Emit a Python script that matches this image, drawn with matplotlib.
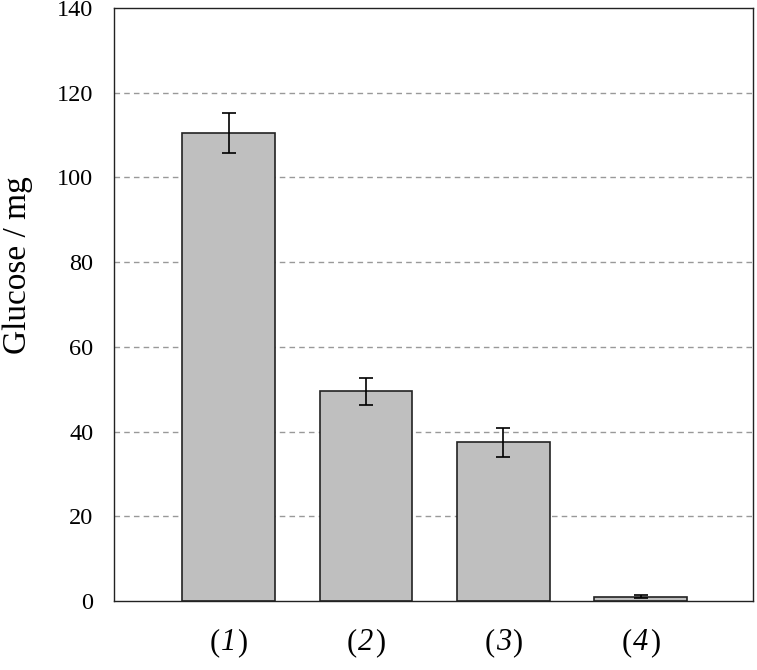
import matplotlib
matplotlib.use('Agg')
import matplotlib.pyplot as plt
from matplotlib.offsetbox import TextArea, HPacker, AnnotationBbox
import numpy as np

plt.rcParams['font.family'] = ['Liberation Serif']

# data
samples = ['1', '2', '3', '4']
glucose = [110.5, 49.5, 37.5, 1.0]
glucose_err = [4.7, 3.2, 3.4, 0.3]

fig = plt.figure(figsize=(7.57, 6.70), dpi=100)
ax = fig.add_axes([0.1506, 0.103, 0.8441, 0.885])

x = np.arange(len(samples))
ax.bar(x, glucose, width=0.676, color='#bfbfbf', edgecolor='#222222', linewidth=1.2, zorder=2)
ax.errorbar(x, glucose, yerr=glucose_err, fmt='none', ecolor='black',
            elinewidth=1.2, capsize=5, capthick=1.2, zorder=3)

ax.set_ylim(0, 140)
ax.set_yticks(np.arange(0, 141, 20))
ax.set_xlim(-0.833, 3.815)
ax.set_xticks(x)
ax.set_xticklabels([])
ax.tick_params(axis='y', length=0, pad=15, labelsize=17.5)
ax.tick_params(axis='x', length=0)

# x labels: "(" upright, number italic, ")" upright
for xi, s in zip(x, samples):
    props = dict(fontsize=22, fontfamily='Liberation Serif')
    parts = [TextArea('(', textprops=props),
             TextArea(s, textprops=dict(props, fontstyle='italic')),
             TextArea(')', textprops=props)]
    box = HPacker(children=parts, align='baseline', pad=0, sep=1)
    ab = AnnotationBbox(box, (xi, 0), xybox=(0, -30), xycoords=('data', 'axes fraction'),
                        boxcoords='offset points', frameon=False, box_alignment=(0.5, 0.5))
    ax.add_artist(ab)

for yv in range(20, 140, 20):
    ax.axhline(yv, color='#999999', linestyle=(0, (4, 3)), linewidth=1, zorder=1)

for s in ax.spines.values():
    s.set_linewidth(1)
    s.set_color('#222222')

fig.text(0.0238, 0.604, 'Glucose / mg', fontsize=24, rotation=90, ha='center', va='center')

fig.savefig('out.png', dpi=100)
